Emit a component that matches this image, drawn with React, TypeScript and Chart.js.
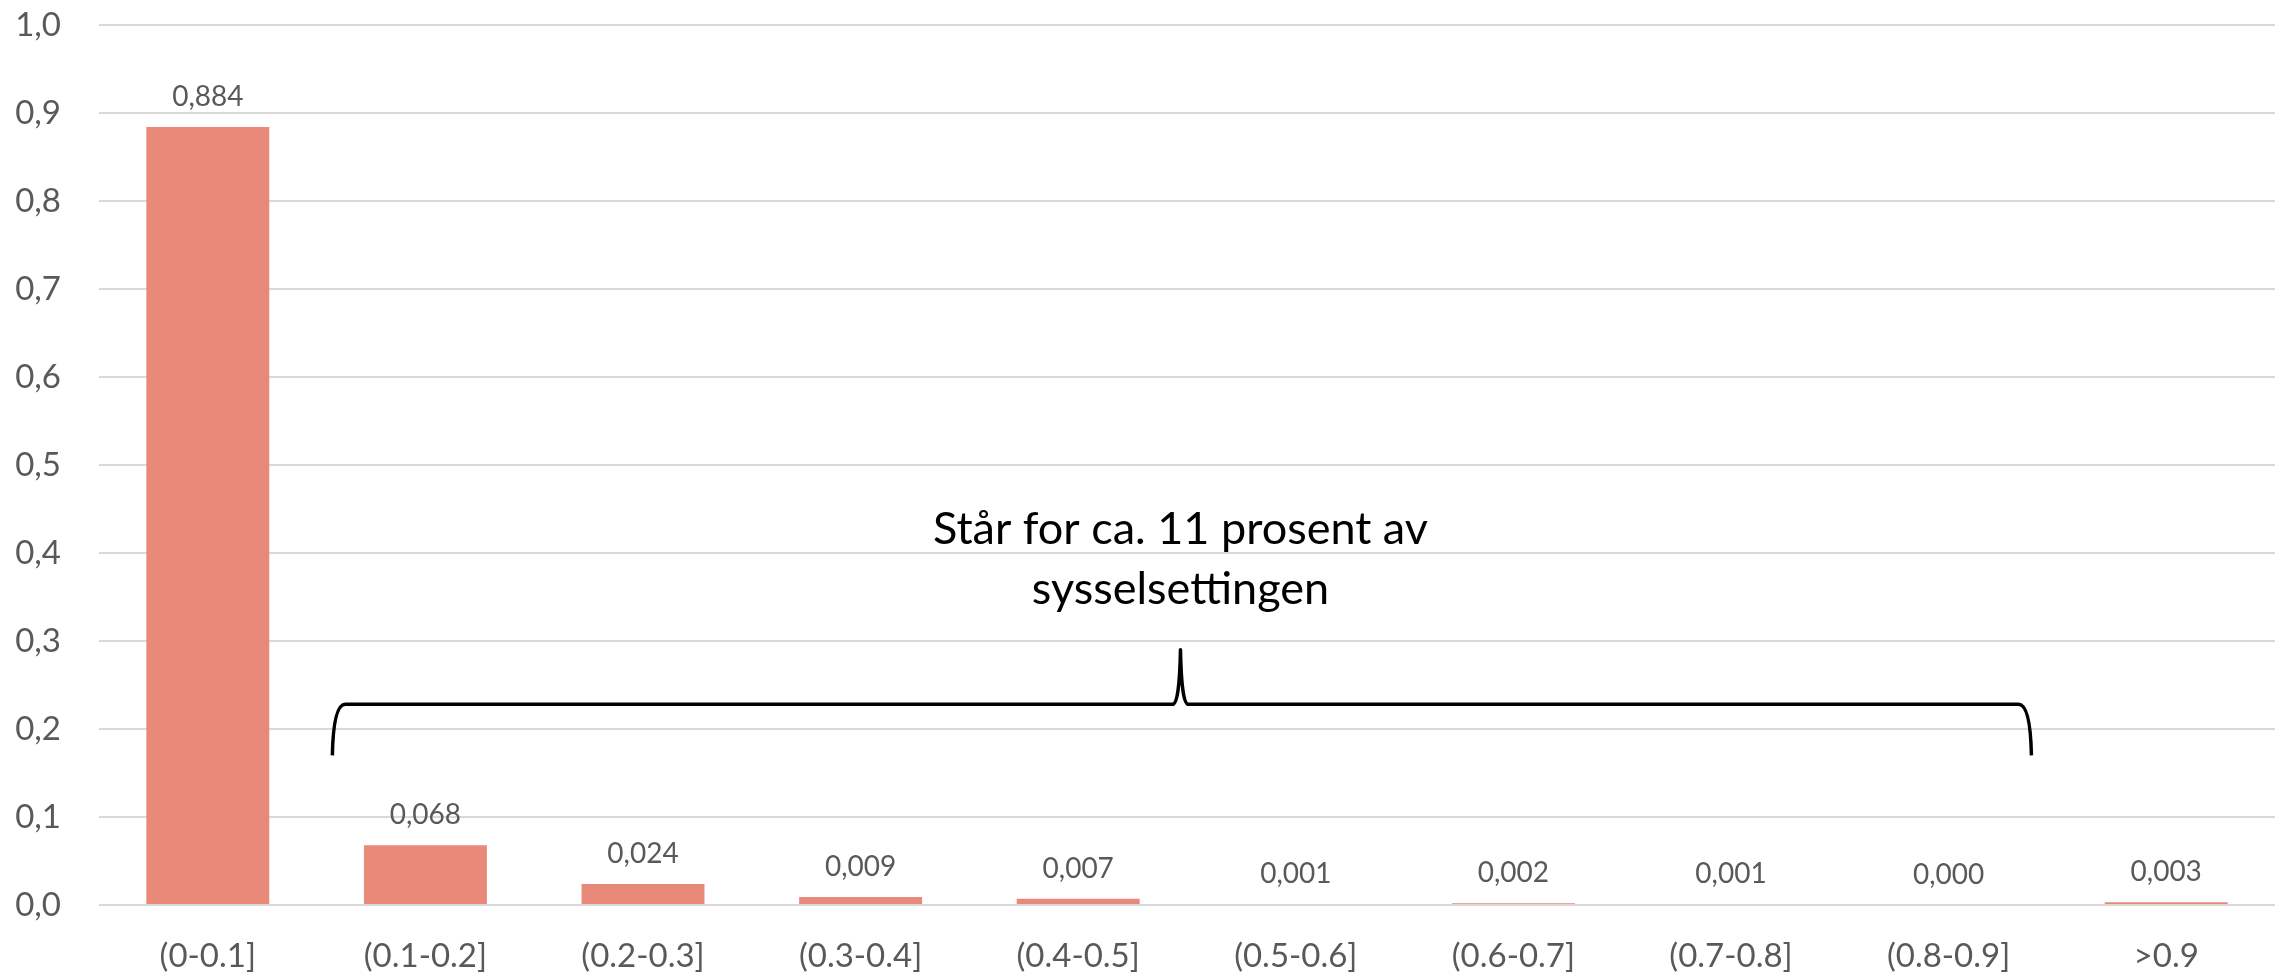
import React, { useEffect, useRef } from "react";
import { Chart, registerables } from "chart.js";

Chart.register(...registerables);

const categories = ["(0-0.1]", "(0.1-0.2]", "(0.2-0.3]", "(0.3-0.4]", "(0.4-0.5]", "(0.5-0.6]", "(0.6-0.7]", "(0.7-0.8]", "(0.8-0.9]", ">0.9"];
const shares = [0.884, 0.068, 0.024, 0.009, 0.007, 0.001, 0.002, 0.001, 0.0, 0.003];
const annotationLines = ["Står for ca. 11 prosent av", "sysselsettingen"];
// brace in category/value units
const braceFrom = 0.577;
const braceTo = 8.376;
const braceMid = 4.47;
const braceLevel = 0.228;
const braceEnd = 0.17;
const braceTip = 0.29;
const annotationY = [0.427, 0.358];

const FONT = "Lato, 'Source Sans Pro', 'Noto Sans', sans-serif";
const GREY = "#595959";

const labelsPlugin = {
  id: "barLabels",
  afterDatasetsDraw(chart: any) {
    const ctx = chart.ctx;
    const meta = chart.getDatasetMeta(0);
    ctx.save();
    ctx.font = `28px ${FONT}`;
    ctx.fillStyle = GREY;
    ctx.textAlign = "center";
    ctx.textBaseline = "middle";
    meta.data.forEach((bar: any, i: number) => {
      ctx.fillText(shares[i].toFixed(3).replace(".", ","), bar.x, bar.y - 30);
    });
    ctx.restore();
  },
};

const bracePlugin = {
  id: "brace",
  afterDraw(chart: any) {
    const ctx = chart.ctx;
    const xs = chart.scales.x;
    const ys = chart.scales.y;
    const catW = xs.getPixelForValue(1) - xs.getPixelForValue(0);
    const px = (v: number) => xs.getPixelForValue(0) + v * catW;
    const x0 = px(braceFrom);
    const x1 = px(braceTo);
    const xm = px(braceMid);
    const yl = ys.getPixelForValue(braceLevel);
    const ye = ys.getPixelForValue(braceEnd);
    const yt = ys.getPixelForValue(braceTip);
    const r = 12;
    ctx.save();
    ctx.strokeStyle = "#000";
    ctx.lineWidth = 3.5;
    ctx.lineJoin = "round";
    ctx.beginPath();
    ctx.moveTo(x0 - 1, ye);
    ctx.quadraticCurveTo(x0, yl, x0 + r, yl);
    ctx.lineTo(xm - 8, yl);
    ctx.quadraticCurveTo(xm - 1, yl, xm, yt);
    ctx.quadraticCurveTo(xm + 1, yl, xm + 8, yl);
    ctx.lineTo(x1 - r, yl);
    ctx.quadraticCurveTo(x1, yl, x1 + 1, ye);
    ctx.stroke();

    ctx.font = `45px ${FONT}`;
    ctx.fillStyle = "#000";
    ctx.textAlign = "center";
    ctx.textBaseline = "middle";
    annotationLines.forEach((t, i) => {
      ctx.fillText(t, xm, ys.getPixelForValue(annotationY[i]));
    });
    ctx.restore();
  },
};

export default function App() {
  const ref = useRef<HTMLCanvasElement>(null);
  useEffect(() => {
    document.body.style.margin = "0";
    const chart = new Chart(ref.current!, {
      type: "bar",
      data: {
        labels: categories,
        datasets: [
          {
            data: shares,
            backgroundColor: "#E9897A",
            borderWidth: 0,
            barPercentage: 0.565,
            categoryPercentage: 1,
          },
        ],
      },
      options: {
        animation: false,
        responsive: false,
        maintainAspectRatio: false,
        layout: { padding: { top: 25, right: 15, left: 0, bottom: 0 } },
        plugins: { legend: { display: false }, tooltip: { enabled: false } },
        scales: {
          x: {
            grid: { display: false },
            border: { display: false },
            ticks: { color: GREY, font: { family: FONT, size: 33 }, padding: 24, maxRotation: 0, autoSkip: false },
            afterFit(scale: any) {
              scale.height = 70;
              scale.paddingLeft = 0;
              scale.paddingRight = 0;
            },
          },
          y: {
            min: 0,
            max: 1,
            grid: { color: "#D9D9D9", lineWidth: 2, drawTicks: false },
            border: { display: false },
            ticks: {
              stepSize: 0.1,
              color: GREY,
              font: { family: FONT, size: 33 },
              padding: 38,
              callback: (v: any) => Number(v).toFixed(1).replace(".", ","),
            },
            afterFit(scale: any) {
              scale.width = 99;
              scale.paddingTop = 0;
              scale.paddingBottom = 0;
            },
          },
        },
      },
      plugins: [labelsPlugin, bracePlugin],
    });
    return () => chart.destroy();
  }, []);
  return (
    <div style={{ position: "absolute", left: 0, top: 0, width: 2290, height: 975, background: "#fff" }}>
      <canvas ref={ref} width={2290} height={975} />
    </div>
  );
}
